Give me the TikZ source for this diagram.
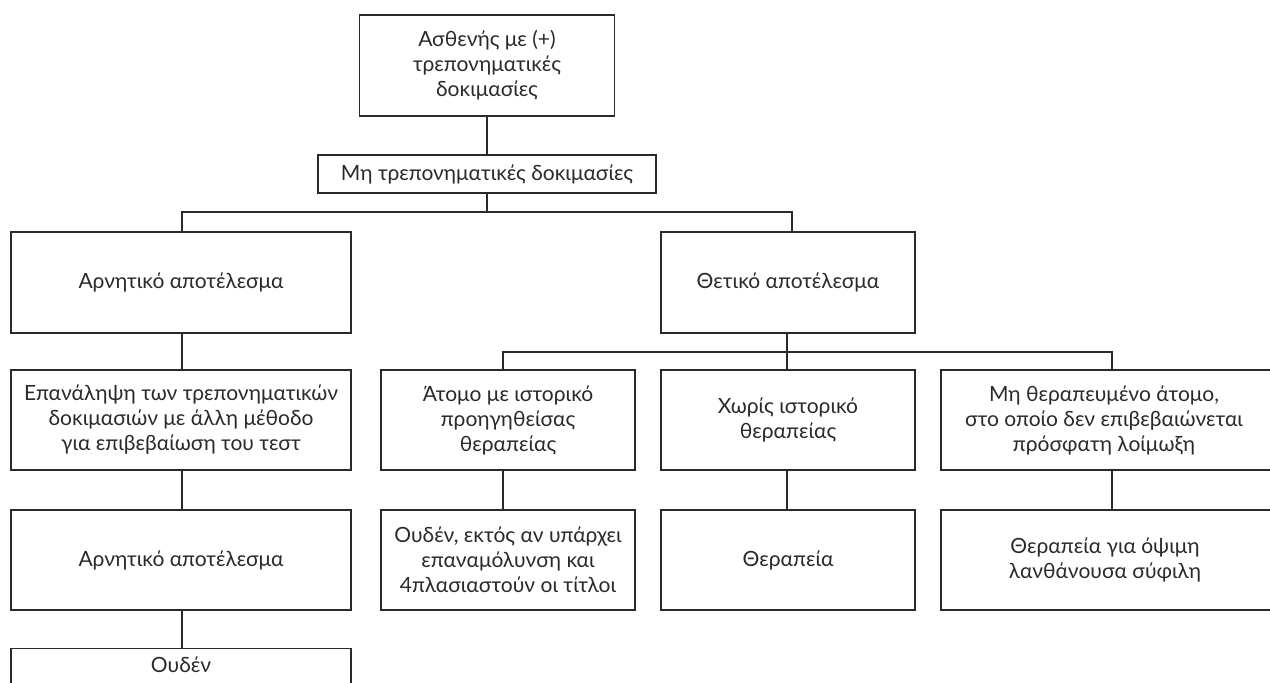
\documentclass[tikz,border=0pt]{standalone}
\usepackage{fontspec}
\setmainfont{Lato}
\definecolor{ink}{HTML}{2A2A2A}
\begin{document}
\begin{tikzpicture}[x=1pt,y=-1pt,
  box/.style={draw=ink, line width=1.2pt, align=center, inner sep=0pt, text=ink,
    font=\fontsize{21}{25}\selectfont},
  txt/.style={align=center, inner sep=0pt, text=ink, font=\fontsize{21}{25}\selectfont},
  link/.style={draw=ink, line width=1.2pt}]
\useasboundingbox (0,0) rectangle (1270,683);
\clip (0,0) rectangle (1270,683);
% top
\node[box, minimum width=255pt, minimum height=101pt] (top) at (487,65.5) {Ασθενής με (+)\\τρεπονηματικές\\δοκιμασίες};
\node[box, minimum width=338pt, minimum height=38pt] (mid) at (487,174) {Μη τρεπονηματικές δοκιμασίες};
% level 2
\node[box, minimum width=340pt, minimum height=101pt] (neg) at (181,282.5) {Αρνητικό αποτέλεσμα};
\node[box, minimum width=254pt, minimum height=101pt] (pos) at (788,282.5) {Θετικό αποτέλεσμα};
% left column
\node[box, minimum width=340pt, minimum height=100pt] (rep) at (181,420) {Επανάληψη των τρεπονηματικών\\δοκιμασιών με άλλη μέθοδο\\για επιβεβαίωση του τεστ};
\node[box, minimum width=340pt, minimum height=100pt] (neg2) at (181,560) {Αρνητικό αποτέλεσμα};
\node[box, minimum width=340pt, minimum height=100pt, anchor=north] (none) at (181,648) {};
\node[txt] (nonetxt) at (181,665) {Ουδέν};
% right branches
\node[box, minimum width=254pt, minimum height=100pt] (hist) at (508,420) {Άτομο με ιστορικό\\προηγηθείσας\\θεραπείας};
\node[box, minimum width=254pt, minimum height=100pt] (nohist) at (788,420) {Χωρίς ιστορικό\\θεραπείας};
\node[box, minimum width=342pt, minimum height=100pt] (untr) at (1112,420) {};
\node[txt] (untrtxt) at (1104,420) {Μη θεραπευμένο άτομο,\\στο οποίο δεν επιβεβαιώνεται\\πρόσφατη λοίμωξη};
\node[box, minimum width=254pt, minimum height=100pt] (hist2) at (508,560) {Ουδέν, εκτός αν υπάρχει\\επαναμόλυνση και\\4πλασιαστούν οι τίτλοι};
\node[box, minimum width=254pt, minimum height=100pt] (nohist2) at (788,560) {Θεραπεία};
\node[box, minimum width=342pt, minimum height=100pt] (untr2) at (1112,560) {};
\node[txt] (untr2txt) at (1105,560) {Θεραπεία για όψιμη\\λανθάνουσα σύφιλη};
% connectors
\coordinate (j1) at (487,212);
\coordinate (j2) at (787,352);
\draw[link] (top.south) -- (mid.north);
\draw[link] (mid.south) -- (j1);
\draw[link] ([xshift=1pt]neg.north) |- (j1) -| ([xshift=4pt]pos.north);
\draw[link] ([xshift=-1pt]pos.south) -- (j2);
\draw[link] ([xshift=-5pt]hist.north) |- (j2) -| (untr.north);
\draw[link] (j2) -- ([xshift=-1pt]nohist.north);
\draw[link] ([xshift=1pt]neg.south) -- ([xshift=1pt]rep.north);
\draw[link] ([xshift=1pt]rep.south) -- ([xshift=1pt]neg2.north);
\draw[link] ([xshift=1pt]neg2.south) -- ([xshift=1pt]none.north);
\draw[link] ([xshift=-5pt]hist.south) -- ([xshift=-5pt]hist2.north);
\draw[link] ([xshift=-1pt]nohist.south) -- ([xshift=-1pt]nohist2.north);
\draw[link] (untr.south) -- (untr2.north);
\end{tikzpicture}
\end{document}
